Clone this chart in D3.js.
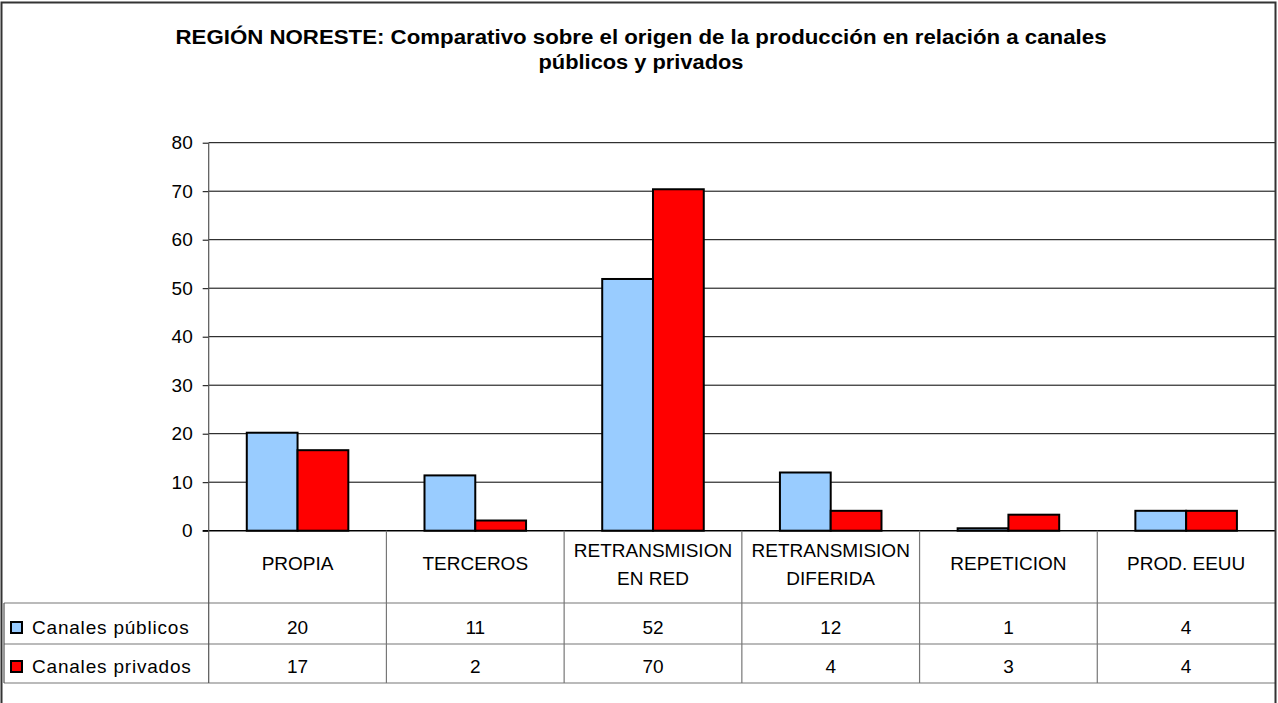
<!DOCTYPE html>
<html>
<head>
<meta charset="utf-8">
<script src="https://cdn.jsdelivr.net/npm/d3@7"></script>
<style>
  html, body { margin: 0; padding: 0; background: #fff; }
  svg { display: block; font-family: "Liberation Sans", Arial, sans-serif; }
</style>
</head>
<body>
<svg></svg>
<script>
// data
const categories = ["PROPIA", "TERCEROS", "RETRANSMISION EN RED", "RETRANSMISION DIFERIDA", "REPETICION", "PROD. EEUU"];
const categoryLines = [["PROPIA"], ["TERCEROS"], ["RETRANSMISION", "EN RED"], ["RETRANSMISION", "DIFERIDA"], ["REPETICION"], ["PROD. EEUU"]];
const seriesNames = ["Canales públicos", "Canales privados"];
const seriesColors = ["#99CCFF", "#FF0000"];
const publicValues = [20.2, 11.4, 51.9, 12.0, 0.5, 4.1];
const privateValues = [16.6, 2.1, 70.4, 4.1, 3.3, 4.1];
const yTicks = [0, 10, 20, 30, 40, 50, 60, 70, 80];
const titleLines = ["REGIÓN NORESTE: Comparativo sobre el origen de la producción en relación a canales", "públicos y privados"];

const [width, height] = [1278, 703];
const plotLeft = 208.7, plotRight = 1275;
const plotTop = 142.7, plotBottom = 530.7;
const rowLines = [603, 644, 683];

const svg = d3.select("svg").attr("width", width).attr("height", height);

const series = [publicValues, privateValues];

const x = d3.scaleBand().domain(categories).range([plotLeft, plotRight]).padding(0);
const xInner = d3.scaleBand().domain([0, 1]).range([0, x.bandwidth()])
  .paddingInner(0).paddingOuter(0.75);
const y = d3.scaleLinear().domain([0, 80]).range([plotBottom, plotTop]);

// title (narrow bold glyphs like the original)
const titleWidths = [931, 205];
svg.append("g").selectAll("text").data(titleLines).join("text")
  .attr("x", 641)
  .attr("y", (d, i) => i === 0 ? 43.5 : 69)
  .attr("text-anchor", "middle")
  .attr("font-size", 20)
  .attr("font-weight", "bold")
  .attr("textLength", (d, i) => titleWidths[i])
  .attr("lengthAdjust", "spacingAndGlyphs")
  .text(d => d);

// gridlines
svg.append("g").selectAll("line").data(yTicks.filter(d => d > 0)).join("line")
  .attr("x1", plotLeft).attr("x2", plotRight)
  .attr("y1", d => y(d)).attr("y2", d => y(d))
  .attr("stroke", "#000").attr("stroke-width", 1);

// y axis
const yAxis = svg.append("g")
  .attr("transform", `translate(${plotLeft},0)`)
  .call(d3.axisLeft(y).tickValues(yTicks).tickSize(6).tickPadding(10).tickFormat(d3.format("d")));
yAxis.select(".domain").remove();
yAxis.selectAll(".tick line").attr("stroke", "#000");
yAxis.selectAll(".tick text")
  .attr("font-size", 19)
  .attr("font-family", "Liberation Sans, Arial, sans-serif")
  .attr("fill", "#000");

// bars
const groups = svg.append("g").selectAll("g").data(categories).join("g")
  .attr("transform", d => `translate(${x(d)},0)`);
groups.selectAll("rect")
  .data((d, i) => series.map((s, k) => ({ k, v: s[i] })))
  .join("rect")
  .attr("x", d => xInner(d.k))
  .attr("width", xInner.bandwidth())
  .attr("y", d => y(d.v))
  .attr("height", d => y(0) - y(d.v))
  .attr("fill", d => seriesColors[d.k])
  .attr("stroke", "#000")
  .attr("stroke-width", 2);

// data table lines
const table = svg.append("g");
table.append("line")
  .attr("x1", plotLeft - 6).attr("x2", plotRight)
  .attr("y1", y(0)).attr("y2", y(0))
  .attr("stroke", "#000").attr("stroke-width", 1.5);
table.selectAll("line.h").data(rowLines).join("line")
  .attr("class", "h")
  .attr("x1", 4).attr("x2", plotRight)
  .attr("y1", d => d).attr("y2", d => d)
  .attr("stroke", "#777").attr("stroke-width", 1.2);
table.selectAll("line.v").data(categories.slice(1)).join("line")
  .attr("class", "v")
  .attr("x1", d => x(d)).attr("x2", d => x(d))
  .attr("y1", y(0)).attr("y2", rowLines[2])
  .attr("stroke", "#777").attr("stroke-width", 1.2);
table.append("line")
  .attr("x1", plotLeft).attr("x2", plotLeft)
  .attr("y1", plotTop).attr("y2", rowLines[2])
  .attr("stroke", "#555").attr("stroke-width", 1.2);
table.append("line")
  .attr("x1", 4).attr("x2", 4)
  .attr("y1", rowLines[0]).attr("y2", rowLines[2])
  .attr("stroke", "#555").attr("stroke-width", 1.2);

// category labels
const catLabels = svg.append("g").selectAll("text").data(categories).join("text")
  .attr("x", d => x(d) + x.bandwidth() / 2)
  .attr("text-anchor", "middle")
  .attr("font-size", 19);
catLabels.each(function (d, i) {
  const lines = categoryLines[i];
  const y0 = lines.length === 1 ? 570 : 557;
  d3.select(this).selectAll("tspan").data(lines).join("tspan")
    .attr("x", x(d) + x.bandwidth() / 2)
    .attr("y", (l, j) => y0 + j * 28)
    .text(l => l);
});

// value rows
const rowBase = [634, 673];
series.forEach((s, k) => {
  svg.append("g").selectAll("text").data(s).join("text")
    .attr("x", (d, i) => x(categories[i]) + x.bandwidth() / 2)
    .attr("y", rowBase[k])
    .attr("text-anchor", "middle")
    .attr("font-size", 19)
    .text(d => Math.round(d));
});

// legend keys in table
const legend = svg.append("g").selectAll("g").data(seriesNames).join("g")
  .attr("transform", (d, i) => `translate(0,${rowBase[i]})`);
legend.append("rect")
  .attr("x", 11).attr("y", -12)
  .attr("width", 11).attr("height", 11)
  .attr("fill", (d, i) => seriesColors[i])
  .attr("stroke", "#000").attr("stroke-width", 2);
legend.append("text")
  .attr("x", 32).attr("y", 0)
  .attr("font-size", 19)
  .attr("letter-spacing", 0.8)
  .text(d => d);

// chart border
svg.append("path")
  .attr("d", `M1.5,${height} V2.5 H1275.5 V${height}`)
  .attr("fill", "none")
  .attr("stroke", "#333")
  .attr("stroke-width", 2);
</script>
</body>
</html>
